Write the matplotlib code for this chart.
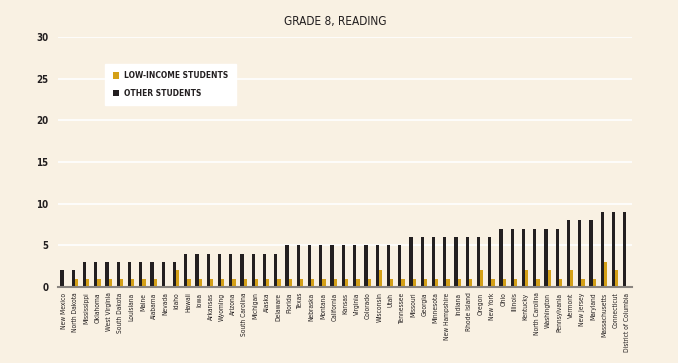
import matplotlib
matplotlib.use("Agg")
import matplotlib.pyplot as plt
import numpy as np
from matplotlib.patches import Patch

plt.rcParams['font.family'] = ['Liberation Sans Narrow', 'DejaVu Sans']
plt.rcParams['font.stretch'] = 'condensed'

states = ["New Mexico", "North Dakota", "Mississippi", "Oklahoma", "West Virginia",
          "South Dakota", "Louisiana", "Maine", "Alabama", "Nevada", "Idaho", "Hawaii",
          "Iowa", "Arkansas", "Wyoming", "Arizona", "South Carolina", "Michigan", "Alaska",
          "Delaware", "Florida", "Texas", "Nebraska", "Montana", "California", "Kansas",
          "Virginia", "Colorado", "Wisconsin", "Utah", "Tennessee", "Missouri", "Georgia",
          "Minnesota", "New Hampshire", "Indiana", "Rhode Island", "Oregon", "New York",
          "Ohio", "Illinois", "Kentucky", "North Carolina", "Washington", "Pennsylvania",
          "Vermont", "New Jersey", "Maryland", "Massachusetts", "Connecticut",
          "District of Columbia"]
other_students = [2, 2, 3, 3, 3, 3, 3, 3, 3, 3, 3, 4, 4, 4, 4, 4, 4, 4, 4, 4,
                  5, 5, 5, 5, 5, 5, 5, 5, 5, 5, 5, 6, 6, 6, 6, 6, 6, 6, 6,
                  7, 7, 7, 7, 7, 7, 8, 8, 8, 9, 9, 9]
low_income = [0, 1, 1, 1, 1, 1, 1, 1, 1, 0, 2, 1, 1, 1, 1, 1, 1, 1, 1, 1,
              1, 1, 1, 1, 1, 1, 1, 1, 2, 1, 1, 1, 1, 1, 1, 1, 1, 2, 1,
              1, 1, 2, 1, 2, 1, 2, 1, 1, 3, 2, 0]
yticks = [0, 5, 10, 15, 20, 25, 30]

bg = "#F9F1E3"
gold = "#D4A017"
dark = "#231F20"

fig = plt.figure(figsize=(6.78, 3.63), dpi=100, facecolor=bg)
ax = fig.add_axes([58/678, 1-287/363, (632-58)/678, (287-37)/363])
ax.set_facecolor(bg)

x = np.arange(len(states))
w = 0.29
ax.bar(x - w/2, other_students, width=w, color=dark, zorder=3)
ax.bar(x + w/2, low_income, width=w, color=gold, zorder=3)

ax.set_xlim(-0.5, len(states) - 0.5)
ax.set_ylim(0, 30)
ax.set_yticks(yticks)
ax.set_yticklabels([str(v) for v in yticks], fontsize=7, fontweight='bold', color=dark)
ax.yaxis.grid(True, color='white', linewidth=1.2, zorder=0)
ax.set_axisbelow(True)
ax.tick_params(axis='y', length=0, pad=7)
ax.set_xticks(x + 0.05)
ax.set_xticklabels(states, rotation=90, fontsize=4.8, color=dark)
ax.tick_params(axis='x', length=0, pad=4)
for s in ['top', 'right', 'left']:
    ax.spines[s].set_visible(False)
ax.spines['bottom'].set_color('#8A8580')
ax.spines['bottom'].set_linewidth(1.5)
ax.spines['bottom'].set_zorder(4)

fig.text(335/678, 1-21/363, "GRADE 8, READING", ha='center', va='center',
         fontsize=8.5, color=dark)

handles = [Patch(facecolor=gold, label="LOW-INCOME STUDENTS"),
           Patch(facecolor=dark, label="OTHER STUDENTS")]
leg = ax.legend(handles=handles, loc='upper left', bbox_to_anchor=(105/678, 1-64/363),
                bbox_transform=fig.transFigure, frameon=True, fancybox=False,
                prop={'size': 6, 'weight': 'bold', 'stretch': 'condensed'},
                handlelength=0.8, handleheight=0.8,
                labelspacing=1.0, borderpad=0.9, handletextpad=0.6, borderaxespad=0)
leg.get_frame().set_facecolor('white')
leg.get_frame().set_edgecolor('white')
leg.get_frame().set_alpha(1)
for t in leg.get_texts():
    t.set_color(dark)

fig.savefig("out.png", dpi=100, facecolor=bg)
